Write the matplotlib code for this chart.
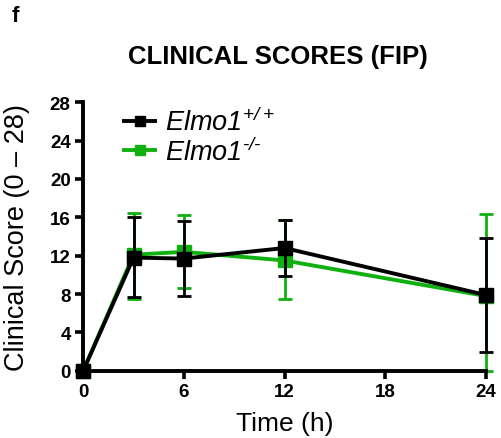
import matplotlib.pyplot as plt
from matplotlib.lines import Line2D

plt.rcParams['font.family'] = ['Liberation Sans', 'DejaVu Sans']
plt.rcParams['mathtext.fontset'] = 'custom'
plt.rcParams['mathtext.sf'] = 'Liberation Sans:italic'
plt.rcParams['mathtext.rm'] = 'Liberation Sans'

# data
time_h = [0, 3, 6, 12, 24]
wt_mean = [0, 11.8, 11.7, 12.8, 7.9]
wt_upper = [0, 16.0, 15.6, 15.7, 13.8]
wt_lower = [0, 7.7, 7.8, 9.9, 2.0]
ko_mean = [0, 12.1, 12.4, 11.5, 7.8]
ko_upper = [0, 16.5, 16.2, 15.7, 16.3]
ko_lower = [0, 7.5, 8.6, 7.5, 0.0]
x_ticks = [0, 6, 12, 18, 24]
y_ticks = [0, 4, 8, 12, 16, 20, 24, 28]
labels = [r'$\mathsf{Elmo1}^{\mathsf{+/+}}$', '$\\mathsf{Elmo1}^{\\mathsf{\u2010/\u2010}}$']

black = '#000000'
green = '#10B010'

fig = plt.figure(figsize=(5.01, 4.39), dpi=100)
ax = fig.add_axes([0.166, 0.153, 0.804, 0.612])


def yerr(mean, lo, hi):
    return [[m - l for m, l in zip(mean, lo)], [h - m for m, h in zip(mean, hi)]]


for mean, lo, hi, col, z in [(ko_mean, ko_lower, ko_upper, green, 2),
                             (wt_mean, wt_lower, wt_upper, black, 3)]:
    eb = ax.errorbar(time_h, mean, yerr=yerr(mean, lo, hi), color=col, lw=2.8,
                     marker='s', ms=9.5, capsize=5, capthick=2, elinewidth=2,
                     zorder=z, clip_on=False)
    for art in eb.lines[1] + eb.lines[2]:
        art.set_clip_on(False)

ax.set_xlim(0, 24)
ax.set_ylim(0, 28)
ax.set_xticks(x_ticks)
ax.set_yticks(y_ticks)
for s in ['top', 'right']:
    ax.spines[s].set_visible(False)
for s in ['left', 'bottom']:
    ax.spines[s].set_linewidth(2.8)
ax.tick_params(width=2.6, length=6, labelsize=13.5, pad=3)
for t in ax.get_xticklabels() + ax.get_yticklabels():
    t.set_fontweight('bold')

ax.set_xlabel('Time (h)', fontsize=19, labelpad=8)
ax.set_ylabel('Clinical Score (0 \u2013 28)', fontsize=19.5, labelpad=14)

handles = [Line2D([], [], color=black, lw=2.8, marker='s', ms=7),
           Line2D([], [], color=green, lw=2.8, marker='s', ms=7)]
ax.legend(handles, labels, loc='upper left', bbox_to_anchor=(0.075, 1.02),
          frameon=False, fontsize=19.5, handlelength=1.15, handletextpad=0.35,
          labelspacing=0.05, borderaxespad=0)

fig.text(0.555, 0.87, 'CLINICAL SCORES (FIP)', ha='center', va='center',
         fontsize=18.5, fontweight='bold')
fig.text(0.024, 0.962, 'f', ha='left', va='center', fontsize=16, fontweight='bold')

fig.savefig('out.png', dpi=100)
